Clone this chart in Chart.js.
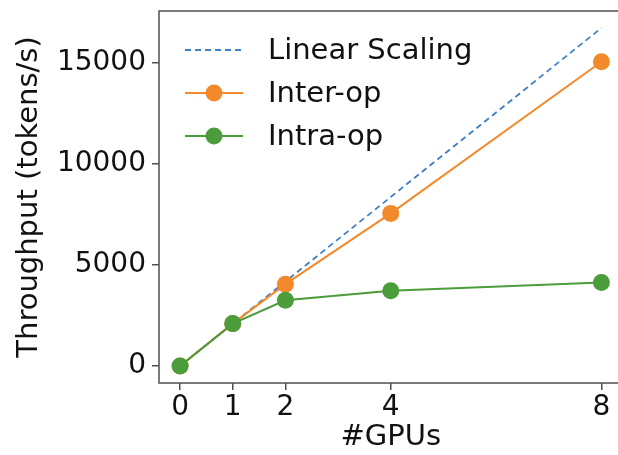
<!DOCTYPE html>
<html>
<head>
<meta charset="utf-8">
<title>Throughput vs GPUs</title>
<script src="https://cdn.jsdelivr.net/npm/chart.js@4/dist/chart.umd.min.js"></script>
<style>
  html, body { margin: 0; padding: 0; background: #fff; overflow: hidden; }
  #wrap { width: 618px; height: 455px; overflow: hidden; }
</style>
</head>
<body>
<div id="wrap"><canvas id="scaling" width="631" height="455"></canvas></div>
<script>
// throughput in tokens/s per GPU count
const gpuCounts = [0, 1, 2, 4, 8];
const linearScaling = [0, 2090, 4180, 8360, 16720];
const interOp = [0, 2100, 4050, 7550, 15050];
const intraOp = [0, 2100, 3250, 3720, 4130];
const yTicks = [0, 5000, 10000, 15000];

const BLUE = '#3f7fc3';
const ORANGE = '#f28a2c';
const GREEN = '#4b9c3a';
const AXIS = '#505050';
const FONT = '"DejaVu Sans", sans-serif';

function pairs(ys) {
    return gpuCounts.map((x, i) => ({x: x, y: ys[i]}));
}

// matplotlib style box round the plot area
const frame = {
    id: 'frame',
    afterDraw(chart) {
        const a = chart.chartArea;
        const ctx = chart.ctx;
        ctx.save();
        ctx.strokeStyle = AXIS;
        ctx.lineWidth = 1.5;
        ctx.strokeRect(a.left, a.top, a.right - a.left, a.bottom - a.top);
        ctx.restore();
    }
};

// legend in the upper left corner: line handle with the marker in the middle
const innerLegend = {
    id: 'innerLegend',
    afterDraw(chart) {
        const ctx = chart.ctx;
        const x0 = 185, x1 = 243, tx = 268;
        let y = 50;
        ctx.save();
        ctx.font = '29px ' + FONT;
        ctx.textBaseline = 'middle';
        chart.data.datasets.forEach(ds => {
            ctx.strokeStyle = ds.borderColor;
            ctx.lineWidth = ds.borderWidth;
            ctx.setLineDash(ds.borderDash || []);
            ctx.beginPath();
            ctx.moveTo(x0, y);
            ctx.lineTo(x1, y);
            ctx.stroke();
            ctx.setLineDash([]);
            if (ds.pointRadius > 0) {
                ctx.fillStyle = ds.pointBackgroundColor;
                ctx.beginPath();
                ctx.arc((x0 + x1) / 2, y, ds.pointRadius, 0, Math.PI * 2);
                ctx.fill();
            }
            ctx.fillStyle = '#111';
            ctx.fillText(ds.label, tx, y + 1);
            y += 43;
        });
        ctx.restore();
    }
};

new Chart(document.getElementById('scaling'), {
    type: 'line',
    data: {
        datasets: [{
            label: 'Linear Scaling',
            data: pairs(linearScaling),
            borderColor: BLUE,
            borderWidth: 1.8,
            borderDash: [6, 4],
            pointRadius: 0,
            order: 3
        }, {
            label: 'Inter-op',
            data: pairs(interOp),
            borderColor: ORANGE,
            borderWidth: 2,
            pointRadius: 8.5,
            pointBackgroundColor: ORANGE,
            pointBorderWidth: 0,
            order: 2
        }, {
            label: 'Intra-op',
            data: pairs(intraOp),
            borderColor: GREEN,
            borderWidth: 2,
            pointRadius: 8.5,
            pointBackgroundColor: GREEN,
            pointBorderWidth: 0,
            order: 1
        }]
    },
    options: {
        responsive: false,
        animation: false,
        layout: { padding: { top: 11, left: 0, right: 0, bottom: 0 } },
        plugins: {
            legend: { display: false },
            tooltip: { enabled: false }
        },
        scales: {
            x: {
                type: 'linear',
                min: -0.4,
                max: 8.4,
                afterBuildTicks: s => { s.ticks = gpuCounts.map(v => ({value: v})); },
                afterFit: s => { s.height = 72; },
                grid: { drawOnChartArea: false, color: AXIS, lineWidth: 1.5, tickLength: 7 },
                border: { display: false },
                ticks: { color: '#111', font: { family: FONT, size: 28 }, padding: 1, maxRotation: 0 },
                title: { display: true, text: '#GPUs', color: '#111', font: { family: FONT, size: 29 }, padding: { top: 0, bottom: 0 } }
            },
            y: {
                min: -836,
                max: 17556,
                afterBuildTicks: s => { s.ticks = yTicks.map(v => ({value: v})); },
                afterFit: s => { s.width = 159; s.paddingTop = 0; s.paddingBottom = 0; },
                grid: { drawOnChartArea: false, color: AXIS, lineWidth: 1.5, tickLength: 7 },
                border: { display: false },
                ticks: { color: '#111', font: { family: FONT, size: 28 }, padding: 6, callback: v => String(v) },
                title: { display: true, text: 'Throughput (tokens/s)', color: '#111', font: { family: FONT, size: 29 }, padding: { top: 12, bottom: 0 } }
            }
        }
    },
    plugins: [frame, innerLegend]
});
</script>
</body>
</html>
